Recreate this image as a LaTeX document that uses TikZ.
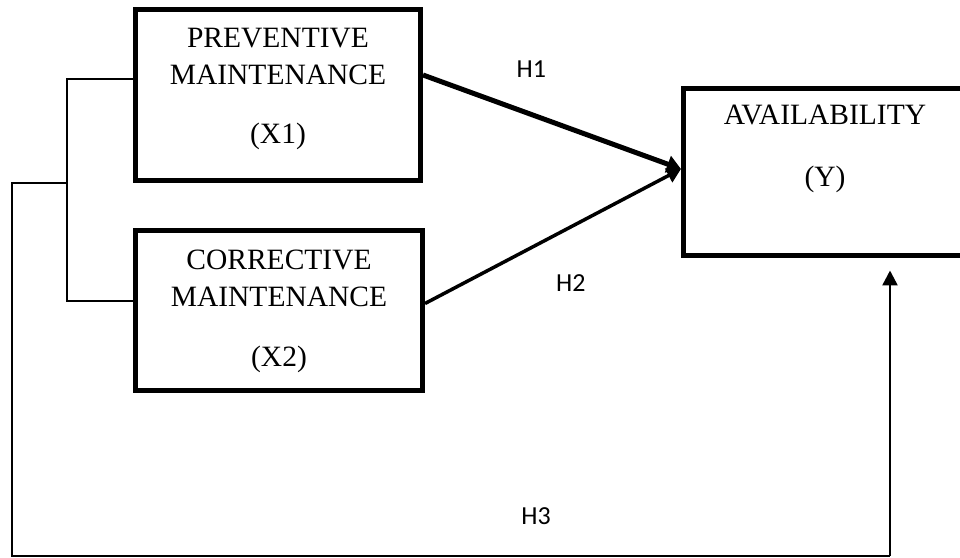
\documentclass[tikz,border=0pt]{standalone}
\usepackage{fontspec}
\setmainfont{Liberation Serif}
\newfontfamily\labelfont{Carlito}
\usetikzlibrary{arrows.meta}

\begin{document}
\begin{tikzpicture}[
  x=1pt, y=1pt,
  box/.style={draw, line width=5pt, align=center, inner sep=0pt,
              font=\fontsize{29.5}{37}\selectfont},
  arr/.style={-{Triangle[length=14pt, width=17pt]}, line width=5pt},
  arrt/.style={-{Triangle[length=14pt, width=15pt]}, line width=3.5pt},
  link/.style={line width=1.5pt},
  uparr/.style={-{Triangle[length=15pt, width=15pt]}, line width=2.5pt},
  hyp/.style={font=\labelfont\fontsize{26}{30}\selectfont, inner sep=0pt},
]
\useasboundingbox (0,0) rectangle (960,557);

% Variables
\node[box, minimum width=285pt, minimum height=171pt, text height=116pt, text depth=18pt]
  (prev) at (278,462) {PREVENTIVE\\MAINTENANCE\\[22pt](X1)};
\node[box, minimum width=287pt, minimum height=160pt, text height=117pt, text depth=4pt]
  (corr) at (279,246.5) {CORRECTIVE\\MAINTENANCE\\[23pt](X2)};
\node[box, minimum width=283pt, minimum height=167pt, text height=82pt, text depth=52pt]
  (avail) at (825,385) {AVAILABILITY\\[25pt](Y)};

% Corners of the joint path
\coordinate (fork) at (67,374);
\coordinate (lowleft) at (12,1);
\coordinate (lowright) at (890,1);

% Arrows
\draw[arr] ([yshift=20pt]prev.east) -- ([yshift=3pt]avail.west)
  node[hyp, pos=0.42, above=34.5pt] {H1};
\draw[arrt] ([yshift=7pt]corr.east) -- ([yshift=3pt]avail.west)
  node[hyp, pos=0.57, below=46.5pt] {H2};
\draw[link] ([yshift=16pt]prev.west) -| (fork) |- ([yshift=9.5pt]corr.west);
\draw[link] (fork) -| (lowleft) -- (lowright)
  node[hyp, pos=0.597, above=30.5pt] {H3};
\draw[uparr] (lowright) -- ([xshift=65pt, yshift=-12.5pt]avail.south);

\end{tikzpicture}
\end{document}
